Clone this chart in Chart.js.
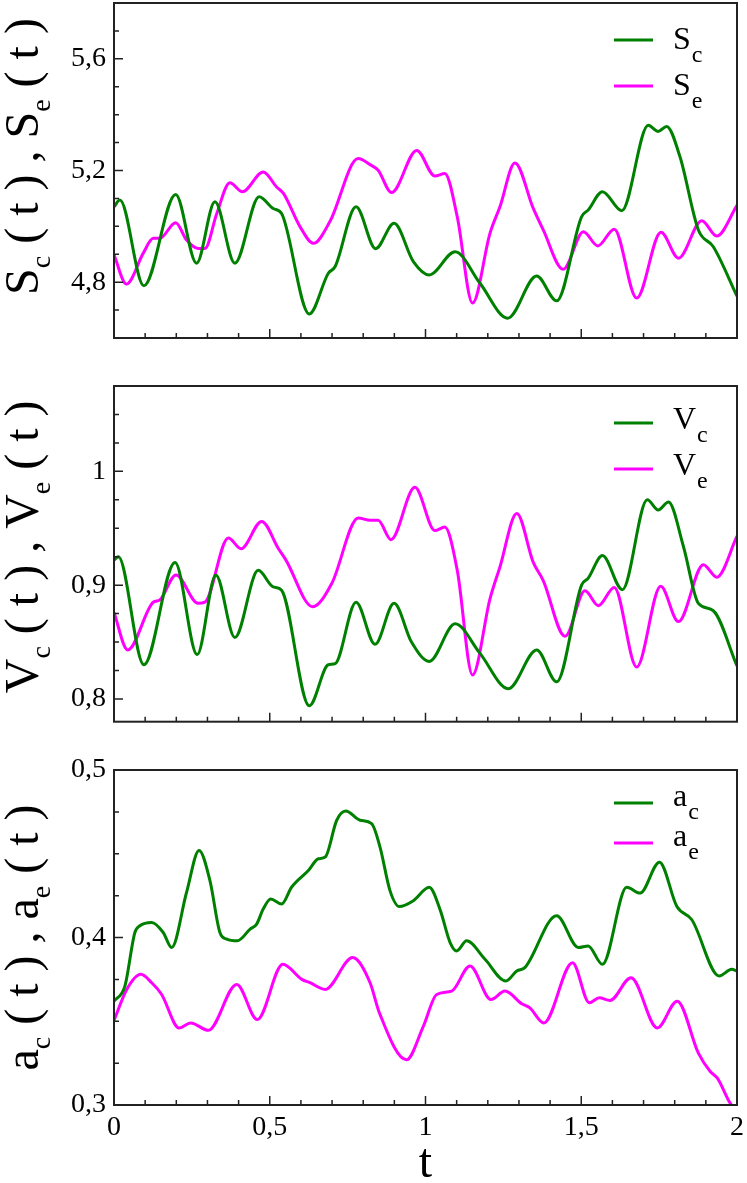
<!DOCTYPE html>
<html>
<head>
<meta charset="utf-8">
<script src="https://cdn.jsdelivr.net/npm/chart.js@4/dist/chart.umd.min.js"></script>
<style>
  body { margin: 0; background: #fff; }
  #wrap { position: relative; width: 747px; height: 1183px; overflow: hidden; }
  canvas { position: absolute; left: 0; }
</style>
</head>
<body>
<div id="wrap">
  <canvas id="pS" width="747" height="345" style="top:0px"></canvas>
  <canvas id="pV" width="747" height="380" style="top:350px"></canvas>
  <canvas id="pA" width="747" height="448" style="top:740px"></canvas>
</div>
<script>
// time axis ticks
const xMajor = [0, 0.5, 1, 1.5, 2]
const xMinor = [0.1, 0.2, 0.3, 0.4, 0.6, 0.7, 0.8, 0.9, 1.1, 1.2, 1.3, 1.4, 1.6, 1.7, 1.8, 1.9]

// S_c(t), S_e(t)
const scT = [0, 0.019, 0.096, 0.198, 0.265, 0.324, 0.388, 0.466, 0.511, 0.538, 0.627, 0.688, 0.710, 0.777, 0.840, 0.899, 0.961, 1.012, 1.095, 1.175, 1.264, 1.357, 1.421, 1.501, 1.522, 1.568, 1.630, 1.715, 1.747, 1.774, 1.817, 1.876, 1.924, 2.0]
const scV = [5.07, 5.094, 4.787, 5.114, 4.868, 5.088, 4.868, 5.106, 5.064, 5.046, 4.686, 4.832, 4.856, 5.07, 4.92, 5.011, 4.874, 4.826, 4.909, 4.796, 4.671, 4.822, 4.733, 5.034, 5.058, 5.124, 5.056, 5.362, 5.340, 5.358, 5.249, 4.987, 4.927, 4.75]
const seT = [0, 0.04, 0.094, 0.126, 0.147, 0.198, 0.233, 0.27, 0.292, 0.33, 0.372, 0.412, 0.479, 0.522, 0.544, 0.597, 0.640, 0.693, 0.784, 0.822, 0.848, 0.891, 0.972, 1.030, 1.062, 1.102, 1.151, 1.207, 1.239, 1.287, 1.346, 1.378, 1.442, 1.507, 1.553, 1.606, 1.678, 1.756, 1.812, 1.887, 1.935, 2.0]
const seV = [4.898, 4.793, 4.904, 4.957, 4.957, 5.013, 4.951, 4.921, 4.921, 5.046, 5.156, 5.124, 5.195, 5.141, 5.118, 4.999, 4.939, 5.017, 5.243, 5.221, 5.201, 5.121, 5.272, 5.18, 5.189, 5.034, 4.725, 4.975, 5.07, 5.227, 5.064, 4.987, 4.846, 4.981, 4.93, 4.99, 4.743, 4.979, 4.886, 5.02, 4.965, 5.075]
const sTicks = [4.8, 5.2, 5.6]
const sMinor = [4.7, 4.9, 5.0, 5.1, 5.3, 5.4, 5.5, 5.7]

// V_c(t), V_e(t)
const vcT = [0, 0.014, 0.096, 0.196, 0.267, 0.327, 0.388, 0.463, 0.511, 0.538, 0.627, 0.688, 0.71, 0.777, 0.838, 0.899, 0.955, 1.012, 1.095, 1.175, 1.266, 1.357, 1.421, 1.501, 1.522, 1.568, 1.632, 1.712, 1.747, 1.780, 1.828, 1.876, 1.924, 2.0]
const vcV = [0.922, 0.925, 0.830, 0.920, 0.839, 0.909, 0.854, 0.913, 0.8985, 0.8956, 0.794, 0.830, 0.831, 0.885, 0.848, 0.884, 0.850, 0.833, 0.866, 0.840, 0.809, 0.843, 0.815, 0.900, 0.906, 0.926, 0.896, 0.975, 0.966, 0.973, 0.934, 0.884, 0.8775, 0.829]
const veT = [0, 0.044, 0.126, 0.147, 0.199, 0.27, 0.292, 0.367, 0.408, 0.474, 0.528, 0.552, 0.638, 0.699, 0.784, 0.822, 0.848, 0.889, 0.966, 1.030, 1.062, 1.102, 1.151, 1.207, 1.239, 1.293, 1.346, 1.378, 1.448, 1.512, 1.555, 1.606, 1.678, 1.755, 1.812, 1.892, 1.935, 2.0]
const veV = [0.876, 0.843, 0.885, 0.887, 0.909, 0.884, 0.885, 0.9415, 0.932, 0.956, 0.932, 0.922, 0.881, 0.9015, 0.959, 0.957, 0.957, 0.940, 0.986, 0.948, 0.951, 0.913, 0.821, 0.888, 0.916, 0.963, 0.920, 0.904, 0.855, 0.895, 0.882, 0.898, 0.828, 0.899, 0.868, 0.918, 0.907, 0.943]
const vTicks = [0.8, 0.9, 1]
const vMinor = [0.825, 0.85, 0.875, 0.925, 0.95, 0.975, 1.025, 1.05]

// a_c(t), a_e(t)
const acT = [0, 0.035, 0.067, 0.083, 0.121, 0.158, 0.185, 0.233, 0.273, 0.308, 0.34, 0.362, 0.396, 0.437, 0.458, 0.479, 0.503, 0.538, 0.57, 0.624, 0.656, 0.678, 0.715, 0.744, 0.79, 0.827, 0.854, 0.886, 0.916, 0.961, 1.012, 1.047, 1.079, 1.1, 1.132, 1.191, 1.258, 1.293, 1.319, 1.421, 1.491, 1.522, 1.568, 1.646, 1.689, 1.751, 1.807, 1.855, 1.943, 1.983, 2.0]
const acV = [0.362, 0.371, 0.403, 0.407, 0.409, 0.403, 0.394, 0.427, 0.452, 0.434, 0.403, 0.399, 0.398, 0.405, 0.408, 0.417, 0.423, 0.420, 0.430, 0.440, 0.447, 0.448, 0.470, 0.4755, 0.470, 0.468, 0.454, 0.428, 0.4185, 0.422, 0.430, 0.4165, 0.397, 0.392, 0.398, 0.387, 0.374, 0.380, 0.382, 0.413, 0.394, 0.395, 0.384, 0.430, 0.4265, 0.445, 0.4185, 0.4106, 0.377, 0.381, 0.380]
const aeT = [0, 0.041, 0.086, 0.121, 0.153, 0.209, 0.246, 0.303, 0.394, 0.46, 0.542, 0.603, 0.629, 0.678, 0.766, 0.822, 0.852, 0.939, 0.993, 1.036, 1.084, 1.143, 1.21, 1.255, 1.309, 1.335, 1.38, 1.472, 1.526, 1.558, 1.592, 1.66, 1.744, 1.808, 1.876, 1.914, 1.937, 1.982, 2.0]
const aeV = [0.3505, 0.369, 0.378, 0.373, 0.366, 0.346, 0.349, 0.3446, 0.372, 0.351, 0.384, 0.375, 0.373, 0.369, 0.388, 0.373, 0.355, 0.327, 0.347, 0.366, 0.368, 0.383, 0.363, 0.368, 0.3605, 0.358, 0.349, 0.385, 0.361, 0.364, 0.3624, 0.376, 0.346, 0.362, 0.331, 0.320, 0.316, 0.300, 0.298]
const aTicks = [0.3, 0.4, 0.5]
const aMinor = [0.325, 0.35, 0.375, 0.425, 0.45, 0.475]

const GREEN = '#008000'
const MAGENTA = '#ff00ff'
const SERIF = '"Liberation Serif", "DejaVu Serif", serif'

// pair t and value arrays into points
const toPoints = (ts, vs) => ts.map((t, i) => ({ x: t, y: vs[i] }))

const comma = v => String(+Number(v).toFixed(3)).replace('.', ',')

// frame, inward ticks, rotated y title and legend with subscripts
const decorPlugin = {
  id: 'decor',
  afterDatasetsDraw(chart) {
    const { ctx, chartArea: a, scales } = chart
    const p = chart.options.plugins.decor
    ctx.save()
    ctx.strokeStyle = '#222'
    ctx.lineWidth = 1.5
    ctx.beginPath()
    xMajor.forEach(v => { const x = scales.x.getPixelForValue(v); ctx.moveTo(x, a.bottom); ctx.lineTo(x, a.bottom - 9) })
    xMinor.forEach(v => { const x = scales.x.getPixelForValue(v); ctx.moveTo(x, a.bottom); ctx.lineTo(x, a.bottom - 5) })
    p.major.forEach(v => { const y = scales.y.getPixelForValue(v); ctx.moveTo(a.left, y); ctx.lineTo(a.left + 9, y) })
    p.minor.forEach(v => { const y = scales.y.getPixelForValue(v); ctx.moveTo(a.left, y); ctx.lineTo(a.left + 5, y) })
    ctx.stroke()
    ctx.lineWidth = 2
    ctx.strokeRect(a.left, a.top, a.right - a.left, a.bottom - a.top)

    // y title, drawn bottom to top
    ctx.fillStyle = '#000'
    ctx.textBaseline = 'alphabetic'
    ctx.textAlign = 'left'
    const mainFont = '48px ' + SERIF
    const subFont = '28px ' + SERIF
    let total = 0
    p.title.forEach(([txt, sub]) => { ctx.font = sub ? subFont : mainFont; total += ctx.measureText(txt).width })
    ctx.translate(38, (a.top + a.bottom) / 2 + p.titleShift + total / 2)
    ctx.rotate(-Math.PI / 2)
    let cx = 0
    p.title.forEach(([txt, sub]) => {
      ctx.font = sub ? subFont : mainFont
      ctx.fillText(txt, cx, sub ? 12 : 0)
      cx += ctx.measureText(txt).width
    })
    ctx.restore()

    // legend
    ctx.save()
    ctx.lineWidth = 3
    chart.data.datasets.forEach((ds, i) => {
      const ly = a.top + p.legendY[i]
      ctx.strokeStyle = ds.borderColor
      ctx.beginPath()
      ctx.moveTo(614, ly)
      ctx.lineTo(653, ly)
      ctx.stroke()
      const [main, sub] = p.legend[i]
      ctx.fillStyle = '#000'
      ctx.font = '32px ' + SERIF
      const base = ly + p.legendBase
      ctx.fillText(main, 673, base)
      const w = ctx.measureText(main).width
      ctx.font = '24px ' + SERIF
      ctx.fillText(sub, 674 + w, base + 13)
    })
    ctx.restore()
  }
}

const makePanel = (id, series, yMin, yMax, major, minor, deco, layoutPad, showX) => {
  const ctx = document.getElementById(id).getContext('2d')
  return new Chart(ctx, {
    type: 'line',
    data: {
      datasets: series.map(s => ({
        label: s.label,
        data: s.data,
        borderColor: s.color,
        borderWidth: 3,
        pointRadius: 0,
        fill: false,
        cubicInterpolationMode: 'monotone'
      }))
    },
    options: {
      responsive: false,
      animation: false,
      layout: { padding: layoutPad },
      plugins: { legend: { display: false }, tooltip: { enabled: false }, decor: deco },
      scales: {
        x: {
          type: 'linear', min: 0, max: 2,
          display: showX,
          grid: { display: false, drawTicks: false },
          border: { display: false },
          afterBuildTicks: sc => { sc.ticks = xMajor.map(v => ({ value: v })) },
          afterFit: sc => {
            if (showX) sc.height = 83
            sc.paddingLeft = 0
            sc.paddingRight = 0
          },
          ticks: { color: '#000', padding: 6, maxRotation: 0, font: { family: SERIF, size: 28 }, callback: v => comma(v) },
          title: { display: true, text: 't', color: '#000', padding: 0, font: { family: SERIF, size: 48, lineHeight: 1 } }
        },
        y: {
          type: 'linear', min: yMin, max: yMax,
          grid: { display: false, drawTicks: false },
          border: { display: false },
          afterBuildTicks: sc => { sc.ticks = major.map(v => ({ value: v })) },
          afterFit: sc => { sc.width = 114; sc.paddingTop = 0; sc.paddingBottom = 0 },
          ticks: { color: '#000', padding: 8, font: { family: SERIF, size: 28 }, callback: v => comma(v) }
        }
      }
    },
    plugins: [decorPlugin]
  })
}

const build = () => {
  makePanel('pS',
    [{ label: 'Sc', data: toPoints(scT, scV), color: GREEN }, { label: 'Se', data: toPoints(seT, seV), color: MAGENTA }],
    4.6, 5.8, sTicks, sMinor,
    { major: sTicks, minor: sMinor, title: [['S', 0], ['c', 1], [' ( t ) , ', 0], ['S', 0], ['e', 1], [' ( t )', 0]], titleShift: -14, legend: [['S', 'c'], ['S', 'e']], legendY: [37, 83], legendBase: 9 },
    { top: 3, bottom: 7, left: 0, right: 10 }, false)

  makePanel('pV',
    [{ label: 'Vc', data: toPoints(vcT, vcV), color: GREEN }, { label: 'Ve', data: toPoints(veT, veV), color: MAGENTA }],
    0.78, 1.075, vTicks, vMinor,
    { major: vTicks, minor: vMinor, title: [['V', 0], ['c', 1], [' ( t ) , ', 0], ['V', 0], ['e', 1], [' ( t )', 0]], titleShift: -7, legend: [['V', 'c'], ['V', 'e']], legendY: [37, 83], legendBase: 6 },
    { top: 36, bottom: 8.3, left: 0, right: 10 }, false)

  makePanel('pA',
    [{ label: 'ac', data: toPoints(acT, acV), color: GREEN }, { label: 'ae', data: toPoints(aeT, aeV), color: MAGENTA }],
    0.3, 0.5, aTicks, aMinor,
    { major: aTicks, minor: aMinor, title: [['a', 0], ['c', 1], [' ( t ) , ', 0], ['a', 0], ['e', 1], [' ( t )', 0]], titleShift: 0, legend: [['a', 'c'], ['a', 'e']], legendY: [33, 73], legendBase: 3 },
    { top: 30, bottom: 0, left: 0, right: 10 }, true)
}

if (document.fonts && document.fonts.load) {
  Promise.all([document.fonts.load('28px "Liberation Serif"'), document.fonts.load('48px "Liberation Serif"')])
    .then(build, build)
} else {
  build()
}
</script>
</body>
</html>
